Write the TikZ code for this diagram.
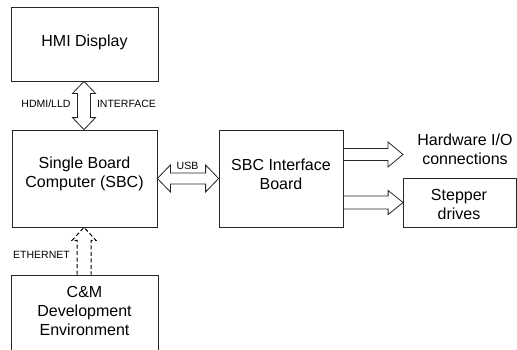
\documentclass[tikz,border=0pt]{standalone}
\usepackage{fontspec}
\setmainfont{Liberation Sans}
\usetikzlibrary{calc}

% Hollow block arrows built from named end points (axis aligned).
% #1 options, #2 left tip, #3 right tip, #4 shaft half-width, #5 head half-width, #6 head length
\newcommand\hdoublearrow[6][]{%
  \draw[blockarrow,#1] (#2) -- ($(#2)+(#6,-#5)$) -- ($(#2)+(#6,-#4)$) -- ($(#3)+(-#6,-#4)$)
    -- ($(#3)+(-#6,-#5)$) -- (#3) -- ($(#3)+(-#6,#5)$) -- ($(#3)+(-#6,#4)$)
    -- ($(#2)+(#6,#4)$) -- ($(#2)+(#6,#5)$) -- cycle;}
% #2 top tip, #3 bottom tip
\newcommand\vdoublearrow[6][]{%
  \draw[blockarrow,#1] (#2) -- ($(#2)+(#5,#6)$) -- ($(#2)+(#4,#6)$) -- ($(#3)+(#4,-#6)$)
    -- ($(#3)+(#5,-#6)$) -- (#3) -- ($(#3)+(-#5,-#6)$) -- ($(#3)+(-#4,-#6)$)
    -- ($(#2)+(-#4,#6)$) -- ($(#2)+(-#5,#6)$) -- cycle;}
% #2 tail (left), #3 tip (right)
\newcommand\rightblockarrow[6][]{%
  \draw[blockarrow,#1] ($(#2)+(0,-#4)$) -- ($(#3)+(-#6,-#4)$) -- ($(#3)+(-#6,-#5)$) -- (#3)
    -- ($(#3)+(-#6,#5)$) -- ($(#3)+(-#6,#4)$) -- ($(#2)+(0,#4)$);}
% #2 tail (bottom), #3 tip (top)
\newcommand\upblockarrow[6][]{%
  \draw[blockarrow,#1] ($(#2)+(-#4,0)$) -- ($(#3)+(-#4,#6)$) -- ($(#3)+(-#5,#6)$) -- (#3)
    -- ($(#3)+(#5,#6)$) -- ($(#3)+(#4,#6)$) -- ($(#2)+(#4,0)$);}

\tikzset{
  box/.style={draw=black!85, line width=0.8pt, rectangle, inner sep=0pt},
  blockarrow/.style={draw=black!85, line width=0.8pt, line join=miter},
  boxtext/.style={align=center, font=\fontsize{16}{19}\selectfont, inner sep=0pt},
  smalltext/.style={font=\fontsize{10.5}{12}\selectfont, inner sep=0pt},
}

\begin{document}
\begin{tikzpicture}[x=1pt, y=-1pt]
  \useasboundingbox (0,0) rectangle (517,349);
  \clip (0,0) rectangle (517,349);
  \fill[white] (0,0) rectangle (517,349);

  % boxes
  \node[box, minimum width=147pt, minimum height=74pt] (hmi) at (84.5,44) {};
  \node[box, minimum width=145pt, minimum height=97pt] (sbc) at (84.5,178.5) {};
  \node[box, minimum width=124pt, minimum height=97pt] (iface) at (281,178.5) {};
  \node[box, minimum width=113pt, minimum height=49pt] (stepper) at (460,202.5) {};
  \node[box, minimum width=147pt, minimum height=80pt] (cm) at (84.5,315) {};

  % box captions
  \node[boxtext] (hmitext) at (84.5,42) {HMI Display};
  \node[boxtext] (sbctext) at (84.5,173.5) {Single Board\\Computer (SBC)};
  \node[boxtext] (ifacetext) at (281,174.5) {SBC Interface\\Board};
  \node[boxtext] (steppertext) at (459,204) {Stepper\\drives};
  \node[boxtext] (hwtext) at (465,149) {Hardware I/O\\connections};
  \node[boxtext] (cmtext) at (84.5,311) {C\&M\\Development\\Environment};

  % arrow end points
  \coordinate (usbL) at (sbc.east |- 0,178.5);
  \coordinate (usbR) at (iface.west |- 0,178.5);
  \coordinate (hwtail) at (iface.east |- 0,154.5);
  \coordinate (hwtip) at (403,154.5);
  \coordinate (sttail) at (iface.east |- 0,202.5);
  \coordinate (sttip) at (stepper.west |- 0,202.5);
  \coordinate (hmiB) at (84,0 |- hmi.south);
  \coordinate (sbcT) at (84,0 |- sbc.north);
  \coordinate (sbcB) at (84,0 |- sbc.south);
  \coordinate (cmT) at (84,0 |- cm.north);

  % connectors
  \vdoublearrow{hmiB}{sbcT}{6.5}{11.5}{12}
  \hdoublearrow{usbL}{usbR}{5.5}{13.5}{13}
  \rightblockarrow{hwtail}{hwtip}{6}{12.5}{15}
  \rightblockarrow{sttail}{sttip}{6.5}{12}{15}
  \upblockarrow[draw=black, line width=1pt, dash pattern=on 4pt off 2.5pt]{cmT}{sbcB}{7}{12}{13}

  % connector labels
  \node[smalltext] (hdmi) at (46,104) {HDMI/LLD};
  \node[smalltext] (intf) at (126.5,104) {INTERFACE};
  \node[smalltext] (usb) at (187.5,166) {USB};
  \node[smalltext] (eth) at (41.5,255) {ETHERNET};
\end{tikzpicture}
\end{document}
